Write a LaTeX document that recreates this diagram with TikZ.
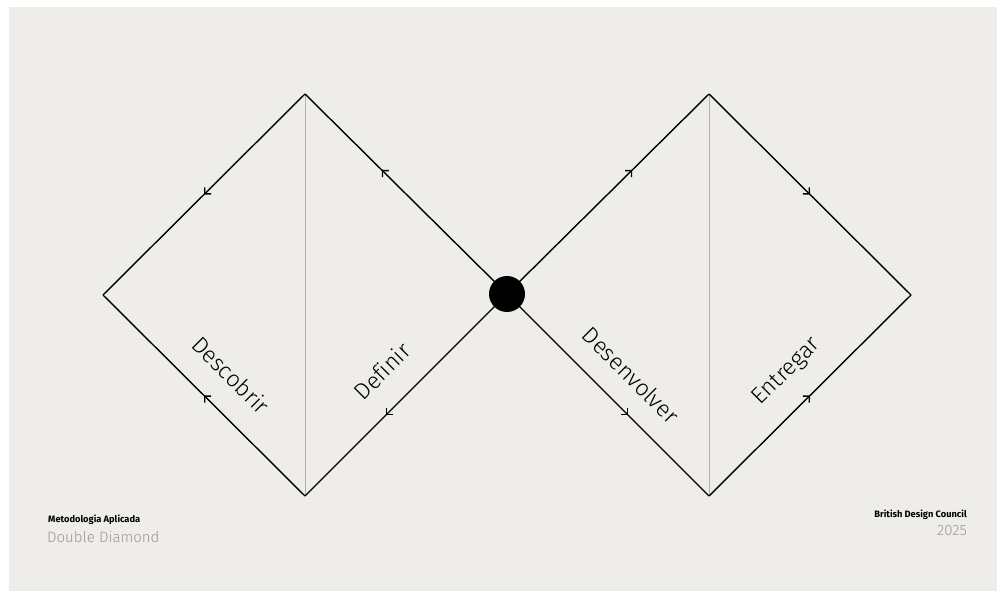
\documentclass[tikz,border=0pt]{standalone}
\usepackage{fontspec}
\setmainfont{Fira Sans}[Ligatures=NoCommon]
\newfontfamily\lightfont{Fira Sans Light}[Ligatures=NoCommon]
\usetikzlibrary{arrows.meta,decorations.markings}
\definecolor{bggray}{HTML}{EFEDEA}
\definecolor{guide}{HTML}{B4B2AF}
\definecolor{subgray}{HTML}{9A9896}
\tikzset{
  edge/.style={line width=1.4pt, black},
  flowmark/.style={postaction={decorate}, decoration={markings, mark=at position #1 with {\arrow{Straight Barb[length=4.5pt,width=9pt,line width=1.3pt]}}}},
  guideline/.style={line width=0.9pt, guide},
  phase/.style={font=\lightfont\fontsize{23}{25}\selectfont, inner sep=0pt},
  smallbold/.style={font=\bfseries\fontsize{9.3}{10}\selectfont, inner sep=0pt},
  bigsub/.style={font=\lightfont\fontsize{15}{17}\selectfont, text=subgray, inner sep=0pt}
}
\begin{document}
\begin{tikzpicture}[x=1pt,y=-1pt]
\useasboundingbox (0,0) rectangle (997,591);
\fill[white] (0,0) rectangle (997,591);
\fill[bggray] (9,7) rectangle (997,591);
% coordinates
\coordinate (L) at (103,295);
\coordinate (T1) at (305,94);
\coordinate (B1) at (305,496);
\coordinate (C) at (507,294);
\coordinate (T2) at (709,94);
\coordinate (B2) at (709,496);
\coordinate (R) at (911,295);
% guide lines
\draw[guideline] (T1) -- (B1);
\draw[guideline] (T2) -- (B2);
% diamond edges
\draw[edge, flowmark=0.62] (C) -- (T1);
\draw[edge, flowmark=0.5] (T1) -- (L);
\draw[edge, flowmark=0.6] (C) -- (B1);
\draw[edge, flowmark=0.5] (B1) -- (L);
\draw[edge, flowmark=0.62] (C) -- (T2);
\draw[edge, flowmark=0.5] (T2) -- (R);
\draw[edge, flowmark=0.6] (C) -- (B2);
\draw[edge, flowmark=0.5] (B2) -- (R);
% centre dot
\node[circle, fill=black, minimum size=36pt, inner sep=0pt] (dot) at (C) {};
% phase labels
\node[phase, rotate=-45] (descobrir) at (231,375) {Descobrir};
\node[phase, rotate=45] (definir) at (382,371) {Definir};
\node[phase, rotate=-45] (desenvolver) at (631,375) {Desenvolver};
\node[phase, rotate=45] (entregar) at (787,372) {Entregar};
% footer texts
\node[smallbold, anchor=west] (meto) at (48,520) {Metodologia Aplicada};
\node[bigsub, anchor=west] (dd) at (47,537) {Double Diamond};
\node[smallbold, anchor=east] (bdc) at (967,515) {British Design Council};
\node[bigsub, anchor=east] (year) at (967,531) {2025};
\end{tikzpicture}
\end{document}
